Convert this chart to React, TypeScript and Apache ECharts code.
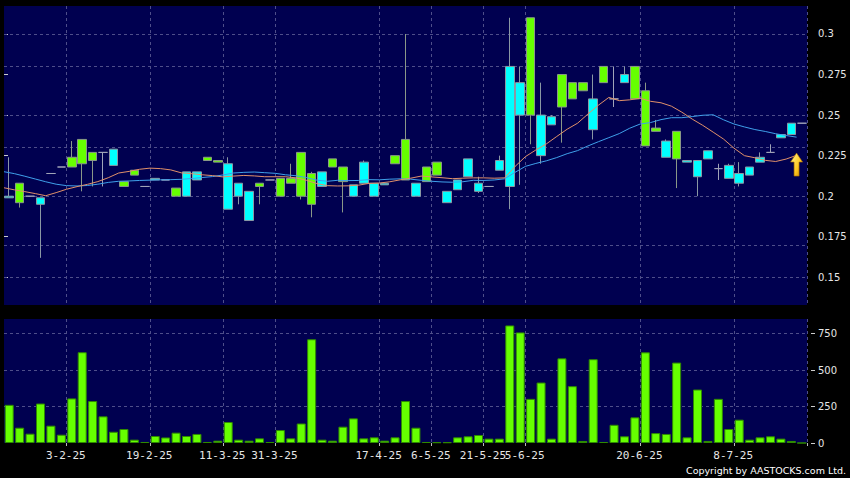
import React, { useEffect, useRef } from "react";
import * as echarts from "echarts";

// ---- data (one entry per trading slot) ----
const opens = [0.199, 0.208, 0.2, 0.195, 0.214, 0.218, 0.224, 0.235, 0.227, 0.227, 0.219, 0.209, 0.216, 0.206, 0.21, 0.21, 0.205, 0.2, 0.21, 0.224, 0.222, 0.192, 0.2, 0.185, 0.208, 0.21, 0.211, 0.211, 0.227, 0.214, 0.206, 0.223, 0.218, 0.2, 0.208, 0.2, 0.207, 0.225, 0.235, 0.2, 0.218, 0.221, 0.196, 0.204, 0.212, 0.203, 0.206, 0.216, 0.206, 0.25, 0.31, 0.225, 0.244, 0.275, 0.27, 0.27, 0.241, 0.28, 0.26, 0.27, 0.28, 0.265, 0.242, 0.224, 0.24, 0.221, 0.212, 0.223, 0.217, 0.211, 0.208, 0.213, 0.221, 0.227, 0.236, 0.238, 0.245];
const closes = [0.2, 0.196, 0.2, 0.199, 0.214, 0.218, 0.218, 0.22, 0.222, 0.227, 0.229, 0.206, 0.213, 0.206, 0.211, 0.21, 0.2, 0.215, 0.215, 0.222, 0.221, 0.22, 0.208, 0.203, 0.206, 0.21, 0.2, 0.208, 0.2, 0.195, 0.215, 0.218, 0.209, 0.207, 0.221, 0.208, 0.208, 0.22, 0.21, 0.208, 0.209, 0.213, 0.203, 0.21, 0.223, 0.208, 0.206, 0.222, 0.28, 0.27, 0.25, 0.25, 0.249, 0.255, 0.26, 0.265, 0.26, 0.27, 0.26, 0.275, 0.26, 0.231, 0.24, 0.234, 0.223, 0.222, 0.222, 0.228, 0.217, 0.219, 0.214, 0.218, 0.224, 0.227, 0.238, 0.245, 0.245];
const lows = [0.199, 0.193, 0.2, 0.162, 0.214, 0.218, 0.218, 0.203, 0.206, 0.206, 0.219, 0.206, 0.213, 0.206, 0.21, 0.21, 0.2, 0.2, 0.21, 0.222, 0.221, 0.192, 0.195, 0.185, 0.195, 0.21, 0.2, 0.208, 0.198, 0.187, 0.206, 0.218, 0.19, 0.2, 0.208, 0.2, 0.207, 0.22, 0.21, 0.2, 0.209, 0.213, 0.196, 0.204, 0.212, 0.202, 0.206, 0.216, 0.192, 0.207, 0.232, 0.22, 0.244, 0.233, 0.26, 0.265, 0.235, 0.27, 0.255, 0.27, 0.26, 0.231, 0.24, 0.224, 0.205, 0.221, 0.2, 0.223, 0.21, 0.211, 0.206, 0.213, 0.221, 0.227, 0.236, 0.238, 0.245];
const highs = [0.224, 0.208, 0.2, 0.199, 0.214, 0.218, 0.234, 0.235, 0.227, 0.227, 0.229, 0.209, 0.216, 0.206, 0.211, 0.21, 0.205, 0.215, 0.215, 0.224, 0.222, 0.224, 0.208, 0.203, 0.208, 0.21, 0.211, 0.22, 0.227, 0.215, 0.215, 0.223, 0.218, 0.207, 0.222, 0.208, 0.208, 0.225, 0.3, 0.208, 0.218, 0.221, 0.203, 0.21, 0.223, 0.212, 0.206, 0.225, 0.31, 0.28, 0.31, 0.27, 0.25, 0.275, 0.27, 0.27, 0.275, 0.28, 0.28, 0.28, 0.28, 0.27, 0.247, 0.235, 0.24, 0.222, 0.222, 0.228, 0.22, 0.22, 0.221, 0.218, 0.227, 0.232, 0.238, 0.245, 0.245];
const volumes = [262, 105, 64, 271, 119, 57, 306, 623, 288, 183, 77, 96, 23, 7, 48, 38, 71, 48, 62, 7, 16, 144, 23, 16, 32, 7, 89, 32, 134, 712, 23, 16, 112, 169, 32, 39, 16, 39, 288, 105, 7, 5, 5, 39, 46, 55, 30, 30, 807, 759, 303, 415, 30, 581, 390, 14, 575, 7, 125, 46, 176, 622, 68, 62, 552, 39, 367, 14, 303, 96, 160, 23, 39, 46, 30, 14, 0];
// moving averages, one value per slot boundary (first = previous session)
const ma10 = [0.2052, 0.2039, 0.2028, 0.2016, 0.2003, 0.2022, 0.2043, 0.2059, 0.2073, 0.209, 0.2114, 0.2143, 0.2153, 0.2166, 0.2173, 0.217, 0.2162, 0.2144, 0.2139, 0.2132, 0.2127, 0.2119, 0.2124, 0.2128, 0.2125, 0.212, 0.212, 0.212, 0.2113, 0.2098, 0.2078, 0.2065, 0.2063, 0.2064, 0.2068, 0.2079, 0.2081, 0.2089, 0.2101, 0.2111, 0.2124, 0.2119, 0.2114, 0.2108, 0.2111, 0.2113, 0.2113, 0.2111, 0.2113, 0.2183, 0.2244, 0.2285, 0.2322, 0.2368, 0.2413, 0.245, 0.2507, 0.2561, 0.2609, 0.2589, 0.2594, 0.2604, 0.2585, 0.2576, 0.2555, 0.2518, 0.2475, 0.2437, 0.2395, 0.2352, 0.2296, 0.225, 0.2237, 0.2221, 0.2214, 0.2229, 0.2252];
const ma20 = [0.2151, 0.2139, 0.2123, 0.2106, 0.2089, 0.2074, 0.2065, 0.2063, 0.2066, 0.2074, 0.2085, 0.2092, 0.2094, 0.2097, 0.2099, 0.2101, 0.2102, 0.2104, 0.2109, 0.2115, 0.2121, 0.2131, 0.2143, 0.2147, 0.2149, 0.2145, 0.2141, 0.2132, 0.2126, 0.2115, 0.2099, 0.2092, 0.2098, 0.2096, 0.2097, 0.2102, 0.2101, 0.2105, 0.2107, 0.2105, 0.2098, 0.2092, 0.2088, 0.2086, 0.2089, 0.2098, 0.2097, 0.21, 0.2107, 0.2147, 0.2184, 0.2202, 0.2218, 0.2238, 0.2262, 0.2281, 0.231, 0.2336, 0.2361, 0.2386, 0.2419, 0.2445, 0.2454, 0.2472, 0.2484, 0.2484, 0.2491, 0.2499, 0.2502, 0.2471, 0.2445, 0.2427, 0.2411, 0.2399, 0.2385, 0.2374, 0.2364];
const tickSlots = [6, 14, 21, 26, 36, 41, 46, 50, 61, 70];
const tickLabels = ["3-2-25", "19-2-25", "11-3-25", "31-3-25", "17-4-25", "6-5-25", "21-5-25", "5-6-25", "20-6-25", "8-7-25"];
const priceTicks = [0.15, 0.175, 0.2, 0.225, 0.25, 0.275, 0.3];
const volumeTicks = [0, 250, 500, 750];
const signalArrow = { boundary: 76, price: 0.2195 };

const NAVY = "#000050";
const GRIDLINE = "#4e4e8a";
const TEXT = "#e6e6e6";

export default function App() {
  const ref = useRef<HTMLDivElement>(null);
  useEffect(() => {
    document.body.style.margin = "0";
    document.body.style.background = "#000";
    const chart = echarts.init(ref.current!, null, { renderer: "svg" });
    const slots = opens.map((_, i) => String(i));
    const tickSet = new Set(tickSlots);
    const labelOf = (i: number) => tickLabels[tickSlots.indexOf(i)] ?? "";
    const splitFn = (i: number) => tickSet.has(i);
    const dash = { color: GRIDLINE, type: [3, 3] as any, width: 1 };

    const option: any = {
      animation: false,
      backgroundColor: "#000",
      grid: [
        { left: 4, top: 6, width: 803, height: 299, show: true, backgroundColor: NAVY, borderWidth: 0 },
        { left: 4, top: 319, width: 803, height: 124, show: true, backgroundColor: NAVY, borderWidth: 0 },
      ],
      xAxis: [
        {
          type: "category", gridIndex: 0, data: slots, boundaryGap: true,
          axisLine: { show: false }, axisTick: { show: false }, axisLabel: { show: false },
          splitLine: { show: true, interval: splitFn, lineStyle: dash },
        },
        {
          type: "category", gridIndex: 1, data: slots, boundaryGap: true,
          axisLine: { show: false },
          axisTick: { show: true, interval: splitFn, length: 3, lineStyle: { color: "#bbbbbb" } },
          axisLabel: {
            show: true, interval: splitFn, margin: 7,
            formatter: (_v: string, i: number) => `{a|${labelOf(i)}}`,
            rich: { a: { color: TEXT, fontSize: 11, fontFamily: "DejaVu Sans Mono", padding: [0, 12, 0, 0] } },
          },
          splitLine: { show: true, interval: splitFn, lineStyle: dash },
        },
        { type: "value", gridIndex: 0, min: 0, max: slots.length, show: false },
      ],
      yAxis: [
        {
          type: "value", gridIndex: 0, position: "right", offset: 4, min: 0.13292, max: 0.31726,
          axisLine: { show: false }, splitLine: { show: false },
          axisTick: { show: true, length: 4, customValues: priceTicks, lineStyle: { color: "#cccccc" } },
          axisLabel: {
            customValues: priceTicks, color: TEXT, fontSize: 10, fontFamily: "DejaVu Sans", margin: 7,
            formatter: (v: number) => String(Number(v.toFixed(3))),
          },
        },
        {
          type: "value", gridIndex: 1, position: "right", offset: 4, min: 0, max: 851,
          axisLine: { show: false }, splitLine: { show: false },
          axisTick: { show: true, length: 4, customValues: volumeTicks, lineStyle: { color: "#cccccc" } },
          axisLabel: {
            customValues: volumeTicks, color: TEXT, fontSize: 10, fontFamily: "DejaVu Sans", margin: 7,
            formatter: (v: number) => String(Math.round(v)),
          },
        },
      ],
      series: [
        {
          type: "candlestick", xAxisIndex: 0, yAxisIndex: 0, barWidth: 9,
          data: opens.map((o, i) => [o, closes[i], lows[i], highs[i]]),
          itemStyle: {
            color: "#00ffff", color0: "#66ff00",
            borderColor: "#8a98a4", borderColor0: "#8a9888", borderColorDoji: "#a0a4b8", borderWidth: 1,
          },
          markLine: {
            silent: true, z: 1, symbol: ["none", "none"], label: { show: false },
            lineStyle: dash, emphasis: { disabled: true },
            data: priceTicks.map((v) => ({ yAxis: v })),
          },
        },
        {
          type: "line", xAxisIndex: 2, yAxisIndex: 0, showSymbol: false, symbol: "none",
          data: ma20.map((v, k) => [k, v]),
          lineStyle: { color: "#3fa0ea", width: 1 },
        },
        {
          type: "line", xAxisIndex: 2, yAxisIndex: 0, showSymbol: false, symbol: "none",
          data: ma10.map((v, k) => [k, v]),
          lineStyle: { color: "#e0906a", width: 1 },
          markPoint: {
            silent: true,
            symbol: "path://M6,0L12,9L8.5,9L8.5,23L3.5,23L3.5,9L0,9Z",
            symbolSize: [12, 23],
            label: { show: false },
            itemStyle: {
              color: new echarts.graphic.LinearGradient(0, 0, 1, 1, [
                { offset: 0, color: "#fff48a" },
                { offset: 0.6, color: "#ffc820" },
                { offset: 1, color: "#d08a00" },
              ]),
              borderColor: "#a86a00", borderWidth: 0.6,
            },
            data: [{ coord: [signalArrow.boundary, signalArrow.price] }],
          },
        },
        {
          type: "bar", xAxisIndex: 1, yAxisIndex: 1, barWidth: 9,
          data: volumes,
          itemStyle: { color: "#66ff00", borderColor: "#2f8a00", borderWidth: 1 },
          markLine: {
            silent: true, z: 1, symbol: ["none", "none"], label: { show: false },
            lineStyle: dash, emphasis: { disabled: true },
            data: volumeTicks.filter((v) => v > 0).map((v) => ({ yAxis: v })),
          },
        },
      ],
      graphic: [
        {
          type: "text", right: 4, top: 465,
          style: { text: "Copyright by AASTOCKS.com Ltd.", fill: "#ffffff", fontSize: 9.5, fontFamily: "DejaVu Sans" },
        },
      ],
    };
    chart.setOption(option);
    return () => chart.dispose();
  }, []);
  return <div ref={ref} style={{ position: "fixed", left: 0, top: 0, width: 850, height: 478, background: "#000" }} />;
}
